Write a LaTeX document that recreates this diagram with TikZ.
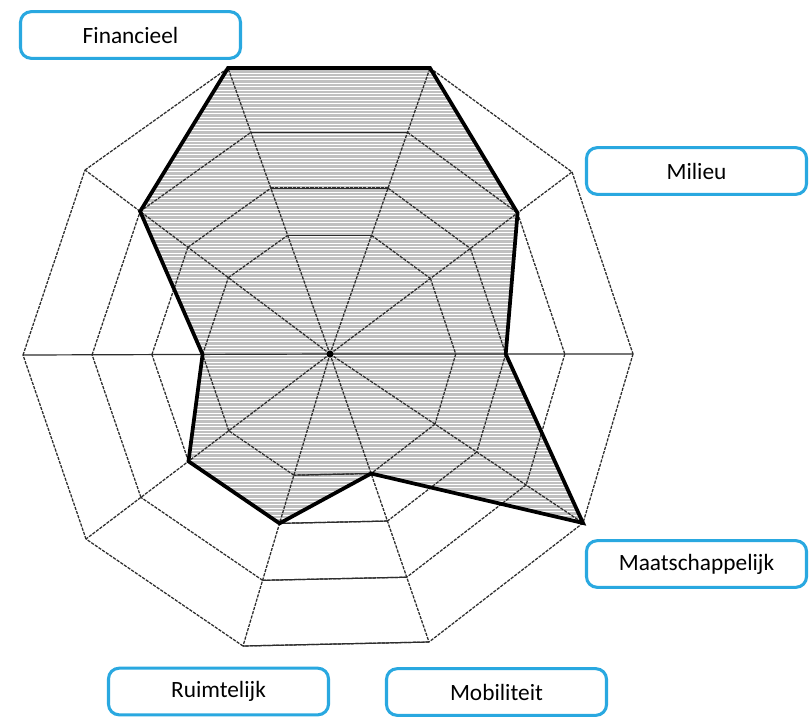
\documentclass[tikz,border=0pt]{standalone}
\usepackage{fontspec}
\setmainfont{Carlito}
\usetikzlibrary{calc}
\definecolor{boxblue}{RGB}{41,168,224}
\definecolor{gridgray}{RGB}{45,45,45}
\definecolor{fillgray}{RGB}{192,192,192}
\begin{document}
\begin{tikzpicture}[x=0.75pt,y=-0.75pt,
  gridline/.style={gridgray, line width=0.95pt, dash pattern=on 2.4pt off 0.9pt},
  gridsolid/.style={gridgray, line width=0.9pt},
  datashape/.style={black, line width=2.8pt, line join=miter},
  stripe/.style={white, line width=0.45pt},
  axislabel/.style={draw=boxblue, line width=2.3pt, rounded corners=8pt, fill=white,
    minimum width=165pt, minimum height=35pt, inner sep=0pt,
    font=\fontsize{17.5}{21}\selectfont}]
\useasboundingbox (0,0) rectangle (809,718);

% centre and outer corners of the ten axes
\coordinate (C) at (330,354);
\foreach \n/\x/\y in {0/228/68, 1/430/68, 2/572/172, 3/633/354, 4/583/523,
                      5/429/642, 6/243/646, 7/86/539, 8/23/355, 9/85/170}
  \coordinate (O\n) at (\x,\y);

% ring corners (four rings)
\foreach \k/\f in {1/0.415, 2/0.58, 3/0.775, 4/1} {
  \foreach \i in {0,...,9} {
    \coordinate (R\k-\i) at ($(C)!\f!(O\i)$);
  }
}

% scores per axis
\foreach \i/\k in {0/4, 1/4, 2/3, 3/2, 4/4, 5/1, 6/2, 7/2, 8/1, 9/3}
  \coordinate (D\i) at (R\k-\i);

% shaded score area with horizontal white stripes
\fill[fillgray] (D0) -- (D1) -- (D2) -- (D3) -- (D4) -- (D5) -- (D6) -- (D7) -- (D8) -- (D9) -- cycle;
\begin{scope}
  \clip (D0) -- (D1) -- (D2) -- (D3) -- (D4) -- (D5) -- (D6) -- (D7) -- (D8) -- (D9) -- cycle;
  \foreach \y in {66,69.4,...,530}
    \draw[stripe] (100,\y) -- (600,\y);
\end{scope}

% spokes
\foreach \i in {0,1,2,4,5,6,7,9}
  \draw[gridline] (C) -- (O\i);
\draw[gridsolid] (O8) -- (C) -- (O3);

% rings
\foreach \k in {1,...,4} {
  \foreach \i in {0,...,9} {
    \pgfmathtruncatemacro{\j}{mod(\i+1,10)}
    \draw[gridline] (R\k-\i) -- (R\k-\j);
  }
  \draw[gridsolid] (R\k-0) -- (R\k-1);
  \draw[gridsolid] (R\k-5) -- (R\k-6);
}

% score outline
\draw[datashape] (D0) -- (D1) -- (D2) -- (D3) -- (D4) -- (D5) -- (D6) -- (D7) -- (D8) -- (D9) -- cycle;
\fill[black] (C) circle (3.5);

% axis labels
\node[axislabel] (fin) at (130.5,35) {Financieel};
\node[axislabel] (mil) at (696.5,171) {Milieu};
\node[axislabel] (maa) at (696.5,564) {Maatschappelijk};
\node[axislabel] (rui) at (218.5,691.5) {Ruimtelijk};
\node[axislabel] (mob) at (496.5,692) {Mobiliteit};
\end{tikzpicture}
\end{document}
